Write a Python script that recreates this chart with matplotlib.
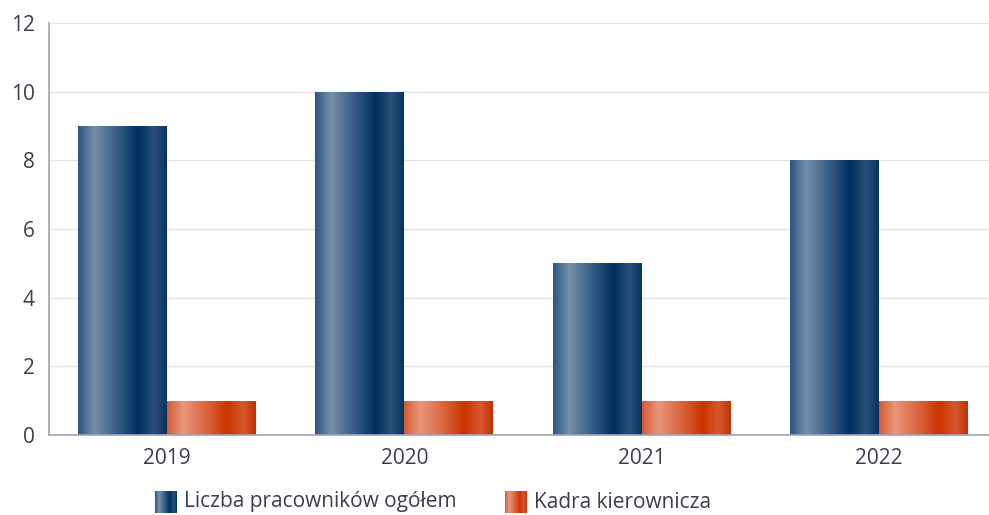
import numpy as np
import matplotlib
matplotlib.use("Agg")
from matplotlib import pyplot as plt
from matplotlib.colors import LinearSegmentedColormap

years = ["2019", "2020", "2021", "2022"]
total_staff = [9, 10, 5, 8]
managers = [1, 1, 1, 1]
series_labels = ["Liczba pracowników ogółem", "Kadra kierownicza"]

plt.rcParams["font.family"] = ["Open Sans", "DejaVu Sans"]
text_color = "#3d3d52"
spine_color = "#a3a3ba"

blue_cmap = LinearSegmentedColormap.from_list(
    "blue_bar",
    [(0.0, "#2b5580"), (0.18, "#7690ab"), (0.42, "#3a6088"), (0.68, "#00305f"),
     (0.86, "#2b5079"), (1.0, "#08335f")],
)
orange_cmap = LinearSegmentedColormap.from_list(
    "orange_bar",
    [(0.0, "#d45a32"), (0.18, "#e8967b"), (0.42, "#da6a44"), (0.68, "#cc3300"),
     (0.86, "#d8572c"), (1.0, "#bf3408")],
)
gradient = np.linspace(0, 1, 256).reshape(1, -1)


def paint_gradient(ax, bars, cmap):
    for bar in bars:
        x0, y0 = bar.get_x(), bar.get_y()
        w, h = bar.get_width(), bar.get_height()
        bar.set_facecolor("none")
        bar.set_edgecolor("none")
        img = ax.imshow(gradient, cmap=cmap, aspect="auto",
                        extent=(x0, x0 + w, y0, y0 + h), zorder=2,
                        interpolation="bilinear")
        img.set_clip_path(bar)


fig = plt.figure(figsize=(9.89, 5.15), dpi=100)
ax = fig.add_axes([48.5 / 989, 1 - 435 / 515, 1 - 48.5 / 989, 412 / 515])

x = np.arange(len(years))
width = 0.375
blue_bars = ax.bar(x - width / 2, total_staff, width, zorder=2)
orange_bars = ax.bar(x + width / 2, managers, width, zorder=2)
paint_gradient(ax, blue_bars, blue_cmap)
paint_gradient(ax, orange_bars, orange_cmap)

ax.set_xlim(-0.5, 3.464)
ax.set_ylim(0, 12)
ax.set_yticks(range(0, 13, 2))
ax.set_xticks(x)
ax.set_xticklabels(years)
ax.yaxis.grid(True, color="#e3e3e3", lw=1, zorder=0)
ax.set_axisbelow(True)
for side in ["top", "right"]:
    ax.spines[side].set_visible(False)
for side in ["left", "bottom"]:
    ax.spines[side].set_color(spine_color)
    ax.spines[side].set_linewidth(1.2)
    ax.spines[side].set_zorder(3)
ax.tick_params(axis="both", length=0, labelsize=15, colors=text_color)
ax.tick_params(axis="x", pad=9)
ax.tick_params(axis="y", pad=10)

# legend drawn by hand so the swatches can carry the gradient
legend_items = [(155, series_labels[0], blue_cmap), (505, series_labels[1], orange_cmap)]
for left_px, label, cmap in legend_items:
    sw = fig.add_axes([left_px / 989, 1 - 513 / 515, 22 / 989, 22 / 515])
    sw.imshow(gradient, cmap=cmap, aspect="auto", interpolation="bilinear")
    sw.set_axis_off()
    fig.text((left_px + 29) / 989, 1 - 502 / 515, label, fontsize=15,
             color=text_color, va="center", ha="left")

fig.savefig("out.png", dpi=100)
